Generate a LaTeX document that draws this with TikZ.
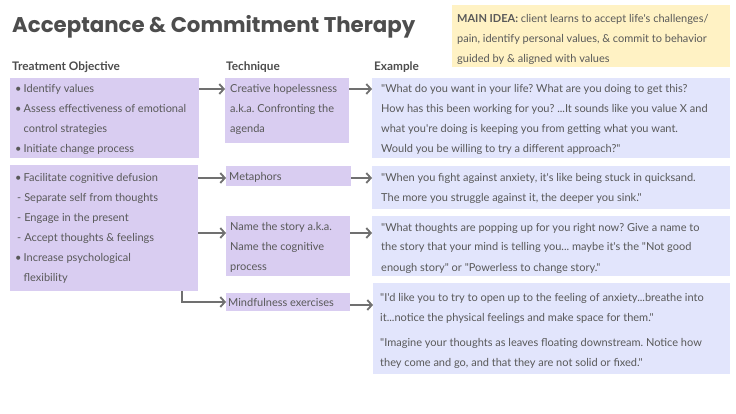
\documentclass[tikz,border=0pt]{standalone}
\usepackage{fontspec}
\setmainfont{Lato}[Ligatures=TeXOff]
\newfontfamily\titlefont{Poppins}
\usetikzlibrary{arrows.meta}
\frenchspacing
\definecolor{txt}{HTML}{595959}
\definecolor{ttl}{HTML}{4D4D4D}
\definecolor{purp}{HTML}{D9CDF1}
\definecolor{blu}{HTML}{E2E5FC}
\definecolor{yel}{HTML}{FFF2C4}
\definecolor{arrc}{HTML}{707070}
\tikzset{
  bx/.style={anchor=north west, inner sep=0pt, outer sep=0pt, draw=none},
  objbox/.style={bx, fill=purp},
  exbox/.style={bx, fill=blu},
  ideabox/.style={bx, fill=yel},
  txtnode/.style={anchor=base west, inner sep=0pt, text=txt, font=\fontsize{11}{20}\selectfont},
  hdr/.style={anchor=base west, inner sep=0pt, text=ttl, font=\fontsize{11.8}{13}\selectfont\bfseries},
  conn/.style={draw=arrc, line width=1.8pt, -{Straight Barb[length=4.5pt,width=10pt]}},
}
\newcommand{\bul}{\makebox[8.5pt][l]{\textbullet}}
\newcommand{\dsh}{\hspace*{2pt}-\hspace*{3pt}}
\begin{document}
\begin{tikzpicture}[x=1pt,y=-1pt]
\fill[white] (0,0) rectangle (736,414);
\useasboundingbox (0,0) rectangle (736,414);

% title
\node[anchor=base west, inner sep=0pt, text=ttl, font=\titlefont\fontsize{21.3}{24}\selectfont\bfseries] (title) at (12,33) {Acceptance \& Commitment Therapy};

% main idea
\node[ideabox, minimum width=278pt, minimum height=62pt] (idea) at (452,5) {};
\node[txtnode] (ideatxt) at (457,23) {\parbox[t]{300pt}{\raggedright
{\bfseries MAIN IDEA:} client learns to accept life's challenges/\\
pain, identify personal values, \& commit to behavior\\
guided by \& aligned with values}};

% headers
\node[hdr] (h1) at (12,71) {Treatment Objective};
\node[hdr] (h2) at (226,71) {Technique};
\node[hdr] (h3) at (374,71) {Example};

% boxes
\node[objbox, minimum width=189pt, minimum height=80pt] (obj1) at (10,78) {};
\node[objbox, minimum width=124pt, minimum height=65pt] (tech1) at (225,78) {};
\node[exbox, minimum width=358pt, minimum height=80pt] (ex1) at (372,78) {};

\node[objbox, minimum width=188pt, minimum height=126pt] (obj2) at (10,165) {};
\node[objbox, minimum width=125pt, minimum height=20pt] (met) at (226,166) {};
\node[exbox, minimum width=358pt, minimum height=43pt] (ex2) at (372,166) {};
\node[objbox, minimum width=124pt, minimum height=60pt] (tech3) at (226,216) {};
\node[exbox, minimum width=358pt, minimum height=60pt] (ex3) at (372,216) {};
\node[objbox, minimum width=124pt, minimum height=18pt] (mind) at (226,293) {};
\node[exbox, minimum width=357pt, minimum height=91pt] (ex4) at (373,283) {};

% texts
\node[txtnode] (obj1txt) at (15,93) {\parbox[t]{185pt}{\raggedright
\bul Identify values\\
\bul Assess effectiveness of emotional\\
\hspace*{8.5pt}control strategies\\
\bul Initiate change process}};

\node[txtnode] (tech1txt) at (230,93) {\parbox[t]{120pt}{\raggedright
Creative hopelessness\\
a.k.a. Confronting the\\
agenda}};

\node[txtnode] (ex1txt) at (381,93) {\parbox[t]{350pt}{\raggedright
"What do you want in your life? What are you doing to get this?\\
How has this been working for you? ...It sounds like you value X and\\
what you're doing is keeping you from getting what you want.\\
Would you be willing to try a different approach?"}};

\node[txtnode] (obj2txt) at (15,182) {\parbox[t]{185pt}{\raggedright
\bul Facilitate cognitive defusion\\
\dsh Separate self from thoughts\\
\dsh Engage in the present\\
\dsh Accept thoughts \& feelings\\
\bul Increase psychological\\
\hspace*{8.5pt}flexibility}};

\node[txtnode] (mettxt) at (229,181) {Metaphors};

\node[txtnode] (ex2txt) at (381,182) {\parbox[t]{350pt}{\raggedright
"When you fight against anxiety, it's like being stuck in quicksand.\\
The more you struggle against it, the deeper you sink."}};

\node[txtnode] (tech3txt) at (230,230) {\parbox[t]{120pt}{\raggedright
Name the story a.k.a.\\
Name the cognitive\\
process}};

\node[txtnode] (ex3txt) at (381,231) {\parbox[t]{350pt}{\raggedright
"What thoughts are popping up for you right now? Give a name to\\
the story that your mind is telling you... maybe it's the "Not good\\
enough story" or "Powerless to change story."}};

\node[txtnode] (mindtxt) at (228,306) {Mindfulness exercises};

\node[txtnode] (ex4txt) at (380,301) {\parbox[t]{350pt}{\raggedright
"I'd like you to try to open up to the feeling of anxiety...breathe into\\
it...notice the physical feelings and make space for them."\\[5pt]
"Imagine your thoughts as leaves floating downstream. Notice how\\
they come and go, and that they are not solid or fixed."}};

% connectors
\draw[conn] ([yshift=-11pt]obj1.north east) -- ([yshift=-11pt]tech1.north west);
\draw[conn] ([yshift=-11pt]tech1.north east) -- ([yshift=-11pt]ex1.north west);
\draw[conn] ([yshift=-13pt]obj2.north east) -- ([yshift=-12pt]met.north west);
\draw[conn] ([yshift=-12pt]met.north east) -- ([yshift=-12pt]ex2.north west);
\draw[conn] ([yshift=-68pt]obj2.north east) -- ([yshift=-17pt]tech3.north west);
\draw[conn] ([yshift=-17pt]tech3.north east) -- ([yshift=-17pt]ex3.north west);
\draw[conn] ([xshift=-16pt]obj2.south east) |- (mind.west);
\draw[conn] ([yshift=-12pt]mind.north east) -- ([yshift=-22pt]ex4.north west);
\end{tikzpicture}
\end{document}
